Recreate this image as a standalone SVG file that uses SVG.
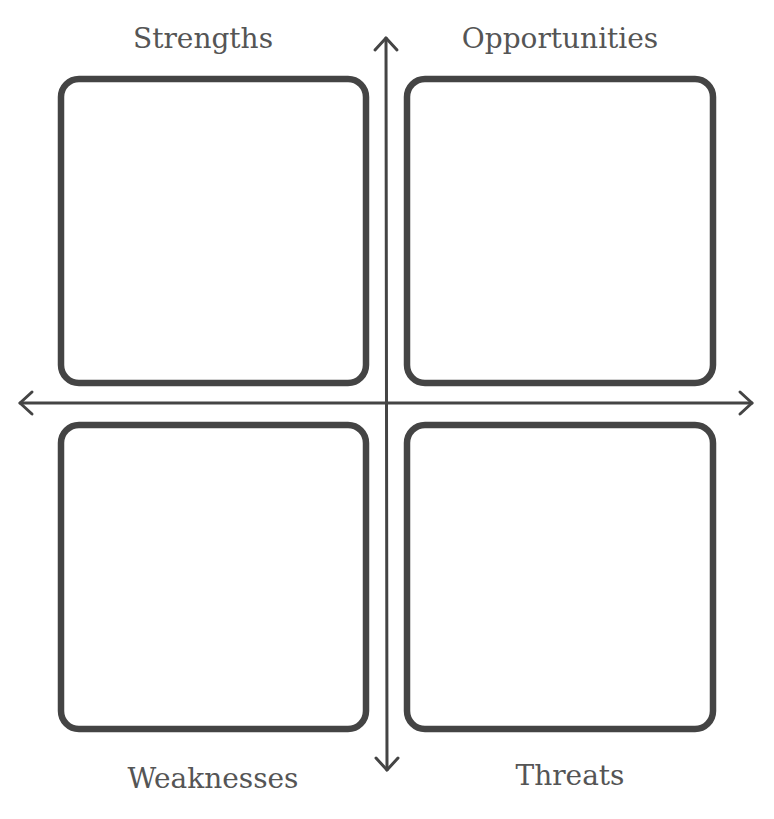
<svg xmlns="http://www.w3.org/2000/svg" width="774" height="819" viewBox="0 0 774 819">
<style>
.box{fill:none;stroke:#444;stroke-width:6.5}
.ax{fill:none;stroke:#444;stroke-width:3;stroke-linecap:round;stroke-linejoin:round}
.lbl{font-family:"DejaVu Serif","Liberation Serif",serif;font-size:28px;fill:#555;text-anchor:middle}
</style>
<rect width="774" height="819" fill="#fff"/>
<g id="connectors">
<path class="ax" d="M386,38 L387,770"/>
<path class="ax" d="M375,50 L386,38 L397,50"/>
<path class="ax" d="M376,758 L387,770 L398,758"/>
<path class="ax" d="M20,403 L752,403"/>
<path class="ax" d="M32,392 L20,403 L32,414"/>
<path class="ax" d="M740,392 L752,403 L740,414"/>
</g>
<g id="strengths">
<rect class="box" x="61" y="79" width="305" height="304" rx="18"/>
<text class="lbl" x="203" y="48">Strengths</text>
</g>
<g id="opportunities">
<rect class="box" x="407" y="79" width="306" height="304" rx="18"/>
<text class="lbl" x="560" y="48">Opportunities</text>
</g>
<g id="weaknesses">
<rect class="box" x="61" y="425" width="305" height="304" rx="18"/>
<text class="lbl" x="213" y="788">Weaknesses</text>
</g>
<g id="threats">
<rect class="box" x="407" y="425" width="306" height="304" rx="18"/>
<text class="lbl" x="570" y="785">Threats</text>
</g>
</svg>
